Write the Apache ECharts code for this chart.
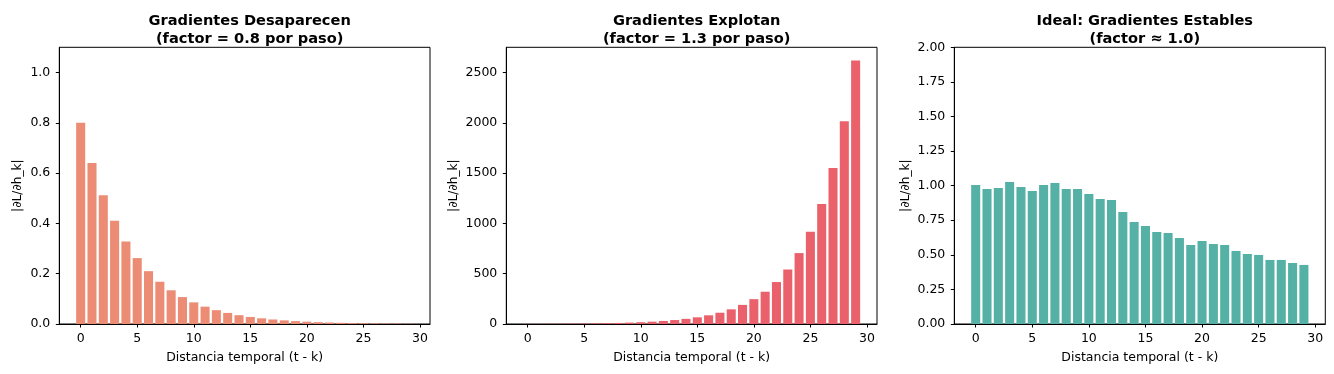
<!DOCTYPE html>
<html><head><meta charset="utf-8">
<script src="https://cdn.jsdelivr.net/npm/echarts@6/dist/echarts.min.js"></script>
<style>html,body{margin:0;padding:0;background:#fff}#c{width:1334px;height:374px}</style>
</head><body><div id="c"></div>
<script>
// Data
const steps = [0,1,2,3,4,5,6,7,8,9,10,11,12,13,14,15,16,17,18,19,20,21,22,23,24,25,26,27,28,29];
const vanishing = [0.8,0.64,0.512,0.41,0.328,0.262,0.21,0.168,0.134,0.107,0.086,0.069,0.055,0.044,0.035,0.028,0.0225,0.018,0.0144,0.0115,0.0092,0.0074,0.0059,0.0047,0.0038,0.003,0.0024,0.0019,0.0015,0.0012];
const exploding = [1.3,1.69,2.2,2.86,3.71,4.83,6.27,8.16,10.6,13.8,17.9,23.3,30.3,39.4,51.2,66.5,86.5,112,146,190,247,321,417,542,705,917,1192,1550,2015,2620];
const stable = [1.005,0.976,0.983,1.027,0.99,0.961,1.005,1.019,0.976,0.976,0.94,0.904,0.896,0.81,0.737,0.708,0.665,0.658,0.622,0.571,0.6,0.578,0.571,0.528,0.506,0.499,0.463,0.463,0.441,0.427];
const xTicks = [0,5,10,15,20,25,30];
const yTicks1 = [0,0.2,0.4,0.6,0.8,1.0];
const yTicks2 = [0,500,1000,1500,2000,2500];
const yTicks3 = [0,0.25,0.5,0.75,1.0,1.25,1.5,1.75,2.0];
const titles = ['Gradientes Desaparecen\n(factor = 0.8 por paso)','Gradientes Explotan\n(factor = 1.3 por paso)','Ideal: Gradientes Estables\n(factor ≈ 1.0)'];
const xName = 'Distancia temporal (t - k)';
const yName = '|∂L/∂h_k|';

const FONT = 'DejaVu Sans';
const grids = [
  {left: 59.3, top: 47.3, width: 370.7, height: 276.7},
  {left: 506.3, top: 47.3, width: 370.7, height: 276.7},
  {left: 954.3, top: 47.3, width: 371, height: 276.7}
];
const yMax = [1.1, 2751, 2.0];
const yTicks = [yTicks1, yTicks2, yTicks3];
const yGaps = [35, 46, 42];
const yFmt = [v => v.toFixed(1), v => String(Math.round(v)), v => v.toFixed(2)];
const colors = ['#EC8C74', '#EB616B', '#55B1A5'];
const values = [vanishing, exploding, stable];

const option = {
  animation: false,
  title: grids.map((g, i) => ({
    text: titles[i], left: g.left + g.width / 2, top: 7.5, textAlign: 'center',
    textStyle: {fontFamily: FONT, fontSize: 14.6, fontWeight: 'bold', color: '#000', lineHeight: 17.5}
  })),
  grid: grids.map(g => ({left: g.left, top: g.top, width: g.width, height: g.height, show: true, borderColor: '#000', borderWidth: 1, containLabel: false})),
  xAxis: grids.map((g, i) => ({
    type: 'value', gridIndex: i, min: -1.89, max: 30.89,
    name: xName, nameLocation: 'middle', nameGap: 27,
    nameTextStyle: {fontFamily: FONT, fontSize: 12.5, color: '#000'},
    axisLine: {show: true, onZero: false, lineStyle: {color: '#000', width: 1}},
    axisTick: {show: true, length: 3.5, inside: false, lineStyle: {color: '#000'}, customValues: xTicks},
    axisLabel: {fontFamily: FONT, fontSize: 12.5, color: '#000', margin: 8, customValues: xTicks},
    splitLine: {show: false}
  })),
  yAxis: grids.map((g, i) => ({
    type: 'value', gridIndex: i, min: 0, max: yMax[i],
    name: yName, nameLocation: 'middle', nameRotate: 90,
    nameGap: yGaps[i],
    nameTextStyle: {fontFamily: FONT, fontSize: 12.2, color: '#000'},
    axisLine: {show: true, onZero: false, lineStyle: {color: '#000', width: 1}},
    axisTick: {show: true, length: 3.5, lineStyle: {color: '#000'}, customValues: yTicks[i]},
    axisLabel: {fontFamily: FONT, fontSize: 12.5, color: '#000', margin: 9, customValues: yTicks[i], formatter: yFmt[i]},
    splitLine: {show: false}
  })),
  series: values.map((vals, i) => ({
    type: 'bar', xAxisIndex: i, yAxisIndex: i,
    data: steps.map((s, j) => [s, vals[j]]),
    barWidth: '80%',
    itemStyle: {color: colors[i]}
  }))
};
const chart = echarts.init(document.getElementById('c'), null, {renderer: 'canvas'});
chart.setOption(option);
</script>
</body></html>
